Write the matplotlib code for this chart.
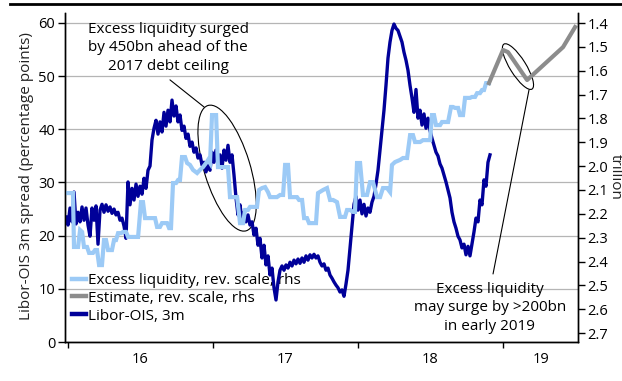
import numpy as np
import matplotlib
matplotlib.use("Agg")
import matplotlib.pyplot as plt
from matplotlib.lines import Line2D
from matplotlib.patches import Ellipse
from matplotlib.transforms import Affine2D, ScaledTranslation

plt.rcParams['font.family'] = ['Open Sans', 'DejaVu Sans']

# Libor-OIS 3m spread, percentage points (roughly every 5 days, late Dec 2015 -> late Nov 2018)
libor_start, libor_end = 2015.986, 2018.910
libor_ois = [
    23.5, 22.0, 25.2, 22.6, 28.2, 22.2, 24.4, 22.6, 25.4, 22.9, 25.2, 22.0, 19.9, 25.2, 22.9, 25.6,
    18.4, 24.8, 25.9, 24.4, 25.8, 24.6, 25.4, 24.2, 25.0, 23.9, 24.4, 22.9, 23.3, 21.8, 19.5, 30.1,
    25.8, 28.9, 26.7, 29.7, 27.4, 29.3, 27.8, 30.8, 28.9, 32.3, 33.1, 38.0, 40.2, 41.7, 39.1, 41.4,
    39.5, 43.2, 40.6, 43.6, 41.4, 45.5, 42.5, 44.4, 41.4, 42.7, 39.8, 40.6, 38.3, 39.1, 36.8, 37.6,
    35.7, 36.5, 34.6, 35.2, 33.3, 33.8, 32.0, 33.3, 32.3, 35.7, 33.8, 36.1, 33.3, 35.2, 32.7, 36.1,
    34.2, 37.0, 33.8, 35.2, 31.4, 27.1, 23.9, 25.8, 22.9, 24.4, 22.6, 23.9, 22.0, 22.6, 20.1, 21.4,
    18.2, 19.5, 15.8, 18.2, 14.5, 16.2, 12.6, 13.9, 10.2, 7.9, 11.3, 13.5, 14.3, 13.5, 14.5, 13.9,
    15.0, 14.3, 15.4, 14.7, 15.6, 14.8, 15.8, 15.0, 16.2, 15.4, 16.4, 15.8, 16.5, 15.8, 16.2, 15.0,
    14.3, 14.7, 13.5, 13.9, 12.6, 12.0, 11.3, 10.7, 10.2, 9.4, 9.8, 8.6, 10.9, 13.5, 17.7, 21.8,
    25.9, 27.4, 24.8, 26.7, 24.1, 25.9, 23.7, 25.2, 24.4, 26.3, 27.4, 29.7, 32.3, 36.1, 39.8, 43.6,
    48.3, 53.4, 56.4, 58.6, 59.8, 59.0, 58.6, 57.5, 56.4, 54.5, 53.0, 51.1, 48.3, 45.9, 43.2, 47.5,
    42.1, 43.6, 40.8, 42.9, 40.2, 42.1, 39.8, 38.3, 37.0, 35.7, 35.0, 33.5, 32.7, 31.4, 30.1, 28.6,
    27.1, 24.4, 22.6, 21.4, 19.9, 19.2, 17.7, 18.4, 16.4, 18.0, 16.2, 18.4, 20.7, 23.3, 22.6, 26.7,
    25.8, 30.5, 29.3, 33.8, 35.2,
]

# Excess liquidity, trillion (years after 2016.0, value)
liq_t = [
    -0.007, 0.034, 0.041, 0.069, 0.083, 0.097, 0.110, 0.131, 0.145, 0.172, 0.186, 0.200, 0.214, 0.234,
    0.248, 0.262, 0.276, 0.303, 0.317, 0.331, 0.345, 0.366, 0.379, 0.400, 0.414, 0.483, 0.503, 0.517,
    0.531, 0.600, 0.614, 0.634, 0.648, 0.683, 0.697, 0.710, 0.724, 0.745, 0.759, 0.772, 0.786, 0.807,
    0.821, 0.841, 0.862, 0.890, 0.910, 0.931, 0.952, 0.966, 0.979, 0.993, 1.021, 1.034, 1.069, 1.103,
    1.117, 1.166, 1.186, 1.207, 1.221, 1.241, 1.255, 1.303, 1.317, 1.338, 1.359, 1.379, 1.393, 1.441,
    1.462, 1.483, 1.497, 1.517, 1.531, 1.579, 1.593, 1.614, 1.628, 1.648, 1.662, 1.710, 1.724, 1.759,
    1.786, 1.807, 1.828, 1.855, 1.876, 1.910, 1.924, 1.945, 1.966, 1.979, 1.993, 2.014, 2.034, 2.062,
    2.083, 2.103, 2.131, 2.152, 2.172, 2.200, 2.221, 2.234, 2.255, 2.290, 2.310, 2.338, 2.359, 2.379,
    2.393, 2.428, 2.448, 2.497, 2.510, 2.524, 2.538, 2.566, 2.579, 2.621, 2.641, 2.655, 2.669, 2.690,
    2.703, 2.724, 2.738, 2.772, 2.786, 2.807, 2.821, 2.841, 2.855, 2.869, 2.883, 2.903,
]
liq_v = [
    2.113, 2.113, 2.339, 2.339, 2.268, 2.276, 2.339, 2.339, 2.364, 2.364, 2.352, 2.352, 2.415, 2.415,
    2.310, 2.310, 2.352, 2.352, 2.310, 2.310, 2.281, 2.281, 2.276, 2.276, 2.297, 2.297, 2.151, 2.151,
    2.218, 2.218, 2.255, 2.255, 2.239, 2.239, 2.260, 2.260, 2.071, 2.071, 2.058, 2.058, 1.962, 1.962,
    1.987, 1.995, 2.016, 2.029, 2.016, 2.004, 1.987, 1.974, 1.987, 1.786, 1.786, 2.004, 2.004, 2.004,
    2.130, 2.130, 2.239, 2.239, 2.184, 2.184, 2.171, 2.171, 2.100, 2.092, 2.088, 2.109, 2.130, 2.130,
    2.121, 2.121, 1.995, 1.995, 2.130, 2.130, 2.142, 2.142, 2.218, 2.218, 2.239, 2.239, 2.113, 2.100,
    2.092, 2.142, 2.142, 2.151, 2.213, 2.213, 2.184, 2.184, 2.192, 2.192, 1.987, 1.987, 2.121, 2.121,
    2.067, 2.067, 2.130, 2.130, 2.092, 2.092, 2.109, 1.995, 1.983, 1.974, 1.966, 1.966, 1.870, 1.870,
    1.899, 1.899, 1.891, 1.891, 1.786, 1.786, 1.828, 1.828, 1.815, 1.815, 1.752, 1.752, 1.756, 1.756,
    1.786, 1.786, 1.714, 1.714, 1.710, 1.710, 1.694, 1.694, 1.681, 1.681, 1.652, 1.652,
]

# Estimate, trillion
est_t = [2.903, 3.000, 3.034, 3.166, 3.414, 3.497]
est_v = [1.652, 1.513, 1.522, 1.639, 1.501, 1.417]

year_ticks = [2016, 2017, 2018, 2019]
year_label_pos = [2016.5, 2017.5, 2018.5, 2019.26]
year_labels = ['16', '17', '18', '19']

C_LIQ = '#9ccaf6'
C_EST = '#8c8c8c'
C_LIB = '#000099'
FS = 11
FS_TICK = 10.5

fig = plt.figure(figsize=(6.22, 3.81), dpi=100)
ax = fig.add_axes([65 / 622, 1 - 342 / 381, 513 / 622, 329 / 381])
ax2 = ax.twinx()

libor_x = np.linspace(libor_start, libor_end, len(libor_ois))
ax.plot(libor_x, libor_ois, color=C_LIB, lw=2.4, zorder=3)
ax2.plot(2016 + np.array(liq_t), liq_v, color=C_LIQ, lw=3, solid_joinstyle='miter')
ax2.plot(2016 + np.array(est_t), est_v, color=C_EST, lw=3)

ax.set_xlim(2015.979, 2019.517)
ax.set_ylim(0, 61.88)
ax2.set_ylim(2.7375, 1.358)

ax.set_yticks(range(0, 61, 10))
ax2.set_yticks(np.arange(1.4, 2.71, 0.1))
ax2.set_yticklabels([f'{v:.1f}' for v in np.arange(1.4, 2.71, 0.1)])
ax.set_xticks(year_ticks)
ax.set_xticklabels([])
ax.set_xticks(year_label_pos, minor=True)
ax.set_xticklabels(year_labels, minor=True)
ax.tick_params(axis='x', which='minor', length=0, pad=7, labelsize=FS_TICK)
ax.tick_params(axis='x', which='major', length=4, width=1)
ax.tick_params(axis='y', length=5, width=1, labelsize=FS_TICK, pad=2)
ax2.tick_params(axis='y', length=5, width=1, labelsize=FS_TICK, pad=2)

ax.yaxis.grid(True, color='#b5b5b5', lw=0.9)
ax.set_axisbelow(True)
for a in (ax, ax2):
    a.spines['top'].set_visible(False)
    for s in ('left', 'right', 'bottom'):
        a.spines[s].set_linewidth(1.0)

handles = [Line2D([], [], color=C_LIQ, lw=3.2),
           Line2D([], [], color=C_EST, lw=3.2),
           Line2D([], [], color=C_LIB, lw=3.2)]
labels = ['Excess liquidity, rev. scale, rhs', 'Estimate, rev. scale, rhs', 'Libor-OIS, 3m']
leg = ax.legend(handles, labels, loc='upper left', bbox_to_anchor=(72 / 622, 1 - 273 / 381),
                bbox_transform=fig.transFigure, frameon=False, fontsize=FS,
                handlelength=0.9, handletextpad=0.15, labelspacing=0.18,
                borderpad=0, borderaxespad=0)
leg.set_zorder(1)

ax.text(2016.69, 55.3, 'Excess liquidity surged\nby 450bn ahead of the\n2017 debt ceiling',
        ha='center', va='center', fontsize=FS, linespacing=1.28)
ax.text(2018.91, 6.4, 'Excess liquidity\nmay surge by >200bn\nin early 2019',
        ha='center', va='center', fontsize=FS, linespacing=1.28)

ax.annotate('', xy=(2016.938, 44.2), xytext=(2016.703, 49.3),
            arrowprops=dict(arrowstyle='-', lw=0.8, color='black', shrinkA=0, shrinkB=0))
ax.annotate('', xy=(2019.179, 47.4), xytext=(2018.931, 12.8),
            arrowprops=dict(arrowstyle='-', lw=0.8, color='black', shrinkA=0, shrinkB=0))

# ellipses sized in pixels, centred on data points
for cx, cy, w, h, ang in [(2017.097, 32.7, 131, 46, -73), (2019.103, 51.8, 53, 16, -58)]:
    e = Ellipse((0, 0), w, h, angle=ang, fill=False, lw=0.8, ec='black',
                transform=Affine2D() + ScaledTranslation(cx, cy, ax.transData))
    ax.add_artist(e)

fig.text(27 / 622, 1 - 176 / 381, 'Libor-OIS 3m spread (percentage points)', rotation=90,
         ha='center', va='center', fontsize=FS, color='#222222')
fig.text(615 / 622, 1 - 177 / 381, 'trillion', rotation=270, ha='center', va='center',
         fontsize=FS, color='#222222')
fig.add_artist(Line2D([10 / 622, 1], [1 - 4 / 381, 1 - 4 / 381], transform=fig.transFigure,
                      color='black', lw=2))

fig.savefig('out.png', dpi=100)
